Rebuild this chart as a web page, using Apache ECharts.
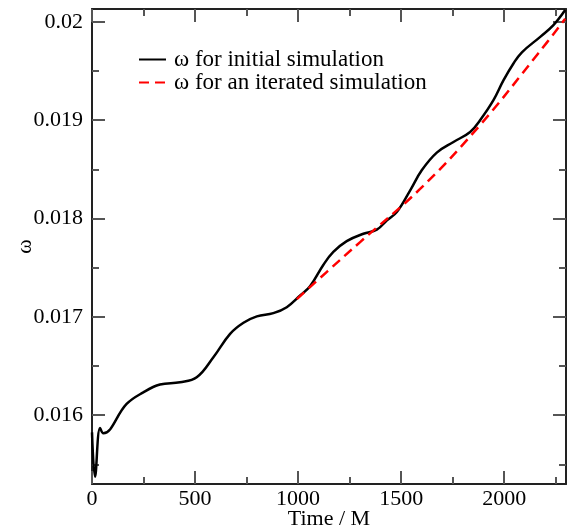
<!DOCTYPE html>
<html>
<head>
<meta charset="utf-8">
<script src="https://cdn.jsdelivr.net/npm/echarts@6/dist/echarts.min.js"></script>
<style>
  html, body { margin: 0; padding: 0; background: #fff; }
  #chart { width: 569px; height: 531px; }
</style>
</head>
<body>
<div id="chart"></div>
<script>
// initial simulation (time, omega)
const initTime = [0, 14.6, 38.8, 54.9, 168, 249, 330, 427, 508, 589, 670, 735, 800, 880, 945, 1010,
  1058, 1123, 1171, 1236, 1317, 1382, 1431, 1479, 1544, 1600, 1673, 1754, 1835, 1883, 1948, 1997,
  2045, 2086, 2175, 2239, 2296];
const initOmega = [0.015825, 0.015374, 0.01587, 0.015815, 0.016114, 0.016232, 0.016311, 0.016334,
  0.016385, 0.016589, 0.016827, 0.01694, 0.017005, 0.017037, 0.017098, 0.017217, 0.01731,
  0.01753, 0.01766, 0.01777, 0.017845, 0.017886, 0.017981, 0.018065, 0.018286, 0.01849,
  0.01867, 0.018778, 0.01888, 0.018999, 0.019203, 0.019406, 0.019576, 0.01969, 0.019847,
  0.019966, 0.020119];

// iterated simulation
const iterTime = [994, 1141, 1301, 1592, 1875, 2166, 2296];
const iterOmega = [0.01718, 0.01746, 0.01776, 0.0183, 0.01893, 0.01968, 0.02003];

const xMajor = [0, 500, 1000, 1500, 2000];
const xMinor = [250, 750, 1250, 1750, 2250];
const yMajor = [0.016, 0.017, 0.018, 0.019, 0.02];
const yMinor = [0.0155, 0.0165, 0.0175, 0.0185, 0.0195];

const seriesNames = ['\u03c9 for initial simulation', '\u03c9 for an iterated simulation'];

const X_MIN = 0, X_MAX = 2300;
const Y_MIN = 0.0153, Y_MAX = 0.02013;

const font = 'Liberation Serif';
const frameColor = '#222';
const tickColor = '#555';

function zip(a, b) { return a.map((v, i) => [v, b[i]]); }

function xAx(pos, ticks, len, showLine, showLabel) {
  return {
    type: 'value', position: pos, min: X_MIN, max: X_MAX,
    axisLine: { show: showLine, onZero: false, lineStyle: { color: frameColor, width: 2 } },
    axisTick: { show: true, inside: true, length: len, customValues: ticks,
      lineStyle: { color: tickColor, width: 2 } },
    axisLabel: { show: showLabel, customValues: xMajor, margin: 4,
      fontFamily: font, fontSize: 22, color: '#000',
      formatter: v => String(Math.round(v)) },
    splitLine: { show: false }
  };
}
function yAx(pos, ticks, len, showLine, showLabel) {
  return {
    type: 'value', position: pos, min: Y_MIN, max: Y_MAX,
    axisLine: { show: showLine, onZero: false, lineStyle: { color: frameColor, width: 2 } },
    axisTick: { show: true, inside: true, length: len, customValues: ticks,
      lineStyle: { color: tickColor, width: 2 } },
    axisLabel: { show: showLabel, customValues: yMajor, margin: 9,
      fontFamily: font, fontSize: 22, color: '#000',
      formatter: v => String(+v.toFixed(4)) },
    splitLine: { show: false }
  };
}

const chart = echarts.init(document.getElementById('chart'));

const xBottom = xAx('bottom', xMajor, 13, true, true);
xBottom.name = 'Time / M';
xBottom.nameLocation = 'middle';
xBottom.nameGap = 24;
xBottom.nameMoveOverlap = false;
xBottom.nameTextStyle = { fontFamily: font, fontSize: 22, color: '#000' };

const yLeft = yAx('left', yMajor, 13, true, true);
yLeft.name = '\u03c9';
yLeft.nameLocation = 'middle';
yLeft.nameGap = 56;
yLeft.nameMoveOverlap = false;
yLeft.nameTextStyle = { fontFamily: font, fontSize: 22, color: '#000' };

const option = {
  animation: false,
  backgroundColor: '#fff',
  grid: { left: 92, right: 3, top: 9, bottom: 47, outerBoundsMode: 'none' },
  legend: {
    orient: 'vertical',
    left: 133, top: 43,
    itemWidth: 27, itemHeight: 14, itemGap: 0,
    itemStyle: { opacity: 0 },
    textStyle: { fontFamily: font, fontSize: 23, color: '#000', lineHeight: 22, padding: [0, 0, 0, 3] },
    data: seriesNames
  },
  xAxis: [
    xBottom,
    xAx('bottom', xMinor, 7, false, false),
    xAx('top', xMajor, 13, true, false),
    xAx('top', xMinor, 7, false, false)
  ],
  yAxis: [
    yLeft,
    yAx('left', yMinor, 7, false, false),
    yAx('right', yMajor, 13, true, false),
    yAx('right', yMinor, 7, false, false)
  ],
  series: [
    {
      name: seriesNames[0],
      type: 'line',
      smooth: 0.4,
      symbol: 'none',
      data: zip(initTime, initOmega),
      lineStyle: { color: '#000', width: 2.5 },
      itemStyle: { color: '#000' }
    },
    {
      name: seriesNames[1],
      type: 'line',
      smooth: 0.4,
      symbol: 'none',
      data: zip(iterTime, iterOmega),
      lineStyle: { color: '#ff0000', width: 2.5, type: [10, 6] },
      itemStyle: { color: '#ff0000' }
    }
  ]
};
chart.setOption(option);
</script>
</body>
</html>
